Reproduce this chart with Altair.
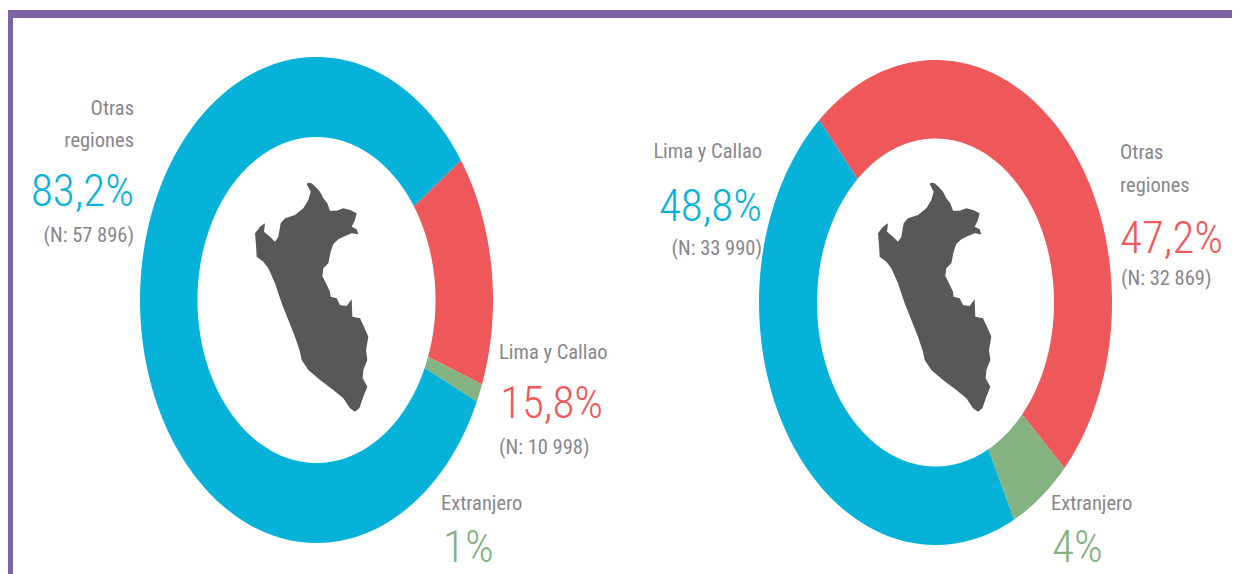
import math
import altair as alt
import pandas as pd

# Donut shares as drawn (percent of the ring), clockwise
left_names = ["Lima y Callao", "Extranjero", "Otras regiones"]
left_shares = [15.4, 1.2, 83.4]
right_names = ["Otras regiones", "Extranjero", "Lima y Callao"]
right_shares = [48.4, 5.7, 45.9]

BLUE, RED, GREEN = "#06B2D8", "#EF585A", "#84B281"
PURPLE, DARK, GREY = "#7F62A3", "#58585A", "#87878B"
left_colors = [RED, GREEN, BLUE]
right_colors = [RED, GREEN, BLUE]

# Peru outline (map units)
map_x = [205,215,228,240,250,262,270,290,310,330,350,345,335,350,355,335,315,295,280,272,265,250,247,258,270,272,290,300,320,335,337,360,372,385,378,382,370,368,382,370,358,345,330,310,280,240,205,185,180,165,145,125,105,85,70,50,48,45,60,75,72,90,105,115,122,135,165,190,205,212,200]
map_y = [38,40,52,65,85,100,122,122,115,120,130,150,170,178,193,190,198,208,222,245,280,295,318,340,365,380,385,405,408,388,440,445,470,500,540,570,600,625,650,680,715,725,715,685,660,630,600,570,545,500,450,400,340,295,275,260,225,190,170,160,185,200,215,200,160,145,135,115,90,65,42]

SMALL, BIG = 20.5, 45
texts = [
    # text, x, y, colour, size, align
    ("Otras", 134, 115, GREY, SMALL, "right"),
    ("regiones", 134, 147, GREY, SMALL, "right"),
    ("83,2%", 134, 206, BLUE, BIG, "right"),
    ("(N: 57 896)", 134, 242, GREY, SMALL, "right"),
    ("Lima y Callao", 499, 359, GREY, SMALL, "left"),
    ("15,8%", 500, 418, RED, BIG, "left"),
    ("(N: 10 998)", 499, 454, GREY, SMALL, "left"),
    ("Extranjero", 441, 510, GREY, SMALL, "left"),
    ("1%", 443, 562, GREEN, BIG, "left"),
    ("Lima y Callao", 762, 158, GREY, SMALL, "right"),
    ("48,8%", 762, 221, BLUE, BIG, "right"),
    ("(N: 33 990)", 762, 255, GREY, SMALL, "right"),
    ("Otras", 1120, 159, GREY, SMALL, "left"),
    ("regiones", 1120, 192, GREY, SMALL, "left"),
    ("47,2%", 1120, 253, RED, BIG, "left"),
    ("(N: 32 869)", 1121, 285, GREY, SMALL, "left"),
    ("Extranjero", 1051, 510, GREY, SMALL, "left"),
    ("4%", 1052, 562, GREEN, BIG, "left"),
]

X = alt.X("x:Q", scale=alt.Scale(domain=[8, 1232], range=[0, 1224]), axis=None)
Y = alt.Y("y:Q", scale=alt.Scale(domain=[8, 574], range=[0, 566]), axis=None)


def ring(names, shares, colors, cx, cy, rx, ry, ix, iy, start, key):
    rows = []
    a0 = start
    for name, share, col in zip(names, shares, colors):
        a1 = a0 + share * 3.6
        n = max(3, int(share * 2))
        pts = []
        for i in range(n + 1):
            t = math.radians(a0 + (a1 - a0) * i / n)
            pts.append((cx + rx * math.sin(t), cy - ry * math.cos(t)))
        for i in range(n, -1, -1):
            t = math.radians(a0 + (a1 - a0) * i / n)
            pts.append((cx + ix * math.sin(t), cy - iy * math.cos(t)))
        pts.append(pts[0])
        for k, (px, py) in enumerate(pts):
            rows.append({"x": px, "y": py, "o": k, "g": f"{key}-{name}", "c": col})
        a0 = a1
    return rows


rows = ring(left_names, left_shares, left_colors, 316.5, 300, 176.5, 243, 119, 163, 54.9, "L")
rows += ring(right_names, right_shares, right_colors, 935.5, 302.5, 176.5, 242.5, 118.5, 164, -41.2, "R")
ring_df = pd.DataFrame(rows)

rings = alt.Chart(ring_df).mark_line(filled=True, strokeWidth=0, interpolate="linear").encode(
    x=X, y=Y, order="o:Q", detail="g:N",
    fill=alt.Fill("c:N", scale=None), color=alt.value(None),
)

map_rows = []
for key, dx in (("L", 240), ("R", 863)):
    for k, (mx, my) in enumerate(zip(map_x, map_y)):
        map_rows.append({"x": dx + mx / 3, "y": 170 + my / 3, "o": k, "g": key})
peru = alt.Chart(pd.DataFrame(map_rows)).mark_line(
    filled=True, strokeWidth=0, interpolate="linear"
).encode(x=X, y=Y, order="o:Q", detail="g:N", color=alt.value(None), fill=alt.value(DARK))

border_df = pd.DataFrame([
    {"x": 5, "x2": 1232, "y": 10, "y2": 18},
    {"x": 5, "x2": 13, "y": 10, "y2": 574},
])
border = alt.Chart(border_df).mark_rect(color=PURPLE).encode(x=X, x2="x2:Q", y=Y, y2="y2:Q")

text_df = pd.DataFrame(texts, columns=["t", "x", "y", "c", "s", "a"])


def text_layer(align, size):
    weight = 300 if size == BIG else 400
    sub = text_df[(text_df.a == align) & (text_df.s == size)]
    return alt.Chart(sub).mark_text(
        font="Roboto Condensed, Open Sans Condensed, DejaVu Sans Condensed, Roboto",
        align=align, baseline="alphabetic", fontWeight=weight, fontSize=size,
    ).encode(x=X, y=Y, text="t:N", color=alt.Color("c:N", scale=None))


chart = alt.layer(
    border, rings, peru,
    text_layer("left", SMALL), text_layer("right", SMALL),
    text_layer("left", BIG), text_layer("right", BIG),
).properties(width=1224, height=566, padding=0, autosize="none", background="white").configure_view(stroke=None)

chart.save("out.html", embed_options={"renderer": "svg", "actions": False})
